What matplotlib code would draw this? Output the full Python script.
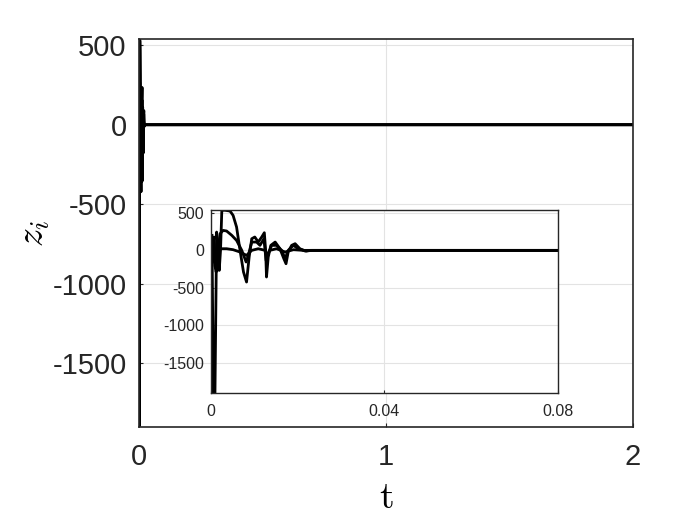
import matplotlib
matplotlib.use('Agg')
import matplotlib.pyplot as plt

plt.rcParams['font.family'] = ['Liberation Sans', 'DejaVu Sans']
plt.rcParams['mathtext.fontset'] = 'cm'
plt.rcParams['axes.unicode_minus'] = False

# three state trajectories z_i(t) (t in seconds)
t1 = [0.00023, 0.00054, 0.00092, 0.0013, 0.0017, 0.0019, 0.0022, 0.0025, 0.0032,
      0.0044, 0.0051, 0.0059, 0.0067, 0.0075, 0.0082, 0.0088, 0.0094, 0.0101,
      0.0109, 0.0117, 0.0123, 0.0126, 0.0128, 0.0132, 0.0138, 0.0148, 0.0159,
      0.0168, 0.0173, 0.0178, 0.0186, 0.0194, 0.0205, 0.0217, 0.0228, 2.0]
z1 = [200, -1900, -1900, 244, 0, -267, 0, 533, 535,
      524, 466, 311, 0, -289, -422, -89, 155, 178,
      111, 178, 235, 0, -355, -89, 67, 111, 22,
      -111, -178, -22, 67, 89, 22, -9, 0, 0]

t2 = [0.0003, 0.0007, 0.0010, 0.0013, 0.0016, 0.0021, 0.0028, 0.0036, 0.0048,
      0.0059, 0.0071, 0.0081, 0.0086, 0.0094, 0.0105, 0.0113, 0.0122, 0.0127,
      0.0132, 0.0140, 0.0151, 0.0163, 0.0171, 0.0178, 0.0190, 0.0201, 0.0220,
      0.0232, 2.0]
z2 = [-155, 178, -222, -267, 0, 222, 266, 258, 200,
      133, 0, -155, -67, 111, 111, 67, 155, -133,
      -44, 67, 67, 0, -111, 0, 67, 22, -9,
      0, 0]

t3 = [0.00023, 0.0006, 0.0009, 0.0012, 0.0016, 0.0021, 0.0036, 0.0051, 0.0067,
      0.0082, 0.0094, 0.0109, 0.0125, 0.0128, 0.0136, 0.0151, 0.0171, 0.0190,
      0.0213, 2.0]
z3 = [44, 133, -200, -289, -89, 22, 22, 9, -22,
      -67, 0, 22, 0, -67, 0, 22, -22, 9,
      0, 0]

series = [(t1, z1), (t2, z2), (t3, z3)]

y_ticks = [-1500, -1000, -500, 0, 500]
y_lim = (-1901, 538)

fig = plt.figure(figsize=(7, 5.25), dpi=100)

# main axes
ax = fig.add_axes([0.1986, 0.1873, 0.7057, 0.7379])
for t, z in series:
    ax.plot(t, z, color='black', lw=2)
ax.set_xlim(0, 2)
ax.set_ylim(*y_lim)
ax.set_xticks([0, 1, 2])
ax.set_yticks(y_ticks)
ax.grid(True, color='#e3e3e3', lw=0.8)
ax.tick_params(direction='in', length=3, labelsize=21, colors='#262626')
ax.tick_params(axis='x', pad=12)
ax.tick_params(axis='y', pad=9)
for s in ax.spines.values():
    s.set_linewidth(1.2)
    s.set_color('#262626')
ax.set_xlabel(r'$\mathrm{t}$', fontsize=27, labelpad=6)
ax.set_ylabel(r'$z_i$', fontsize=27, labelpad=0)

# inset zoom on the transient
ins = fig.add_axes([0.3014, 0.2514, 0.4957, 0.3486])
for t, z in series:
    ins.plot(t, z, color='black', lw=2)
ins.set_xlim(0, 0.08)
ins.set_ylim(*y_lim)
ins.set_xticks([0, 0.04, 0.08])
ins.set_xticklabels(['0', '0.04', '0.08'])
ins.set_yticks(y_ticks)
ins.grid(True, color='#e3e3e3', lw=0.8)
ins.tick_params(direction='in', length=2, labelsize=11.5, colors='#262626')
ins.tick_params(axis='x', pad=8)
ins.tick_params(axis='y', pad=5)
for s in ins.spines.values():
    s.set_linewidth(1.0)
    s.set_color('#262626')

fig.savefig('out.png', dpi=100)
